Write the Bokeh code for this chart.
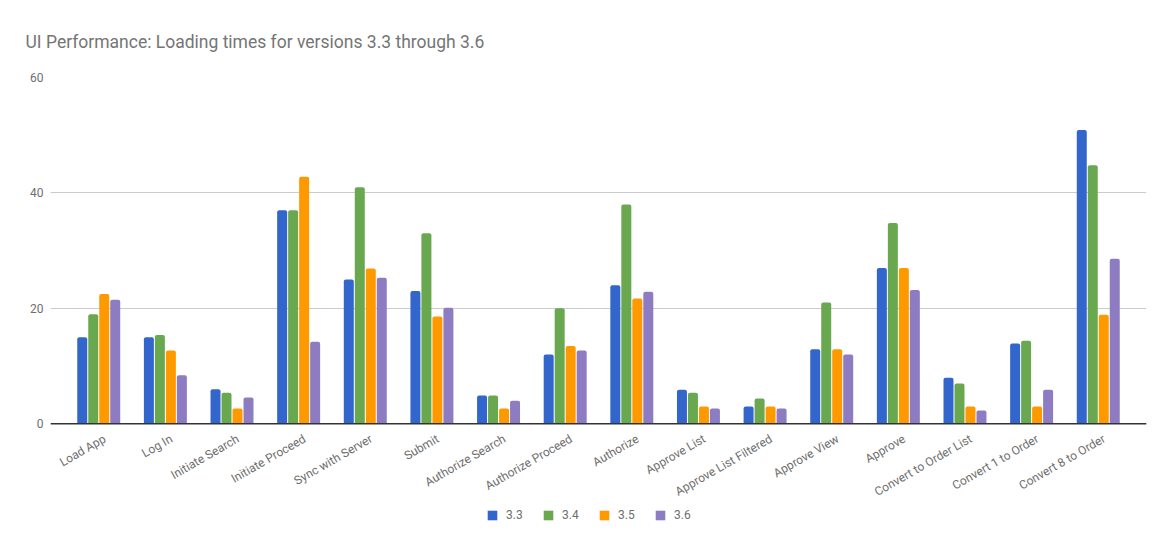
import math
from bokeh.plotting import figure
from bokeh.models import ColumnDataSource, FactorRange, Range1d, Span, Legend, LegendItem, Title
from bokeh.core.properties import value
from bokeh.transform import dodge
from bokeh.embed import file_html
from bokeh.resources import INLINE

categories = ["Load App", "Log In", "Initiate Search", "Initiate Proceed", "Sync with Server",
              "Submit", "Authorize Search", "Authorize Proceed", "Authorize", "Approve List",
              "Approve List Filtered", "Approve View", "Approve", "Convert to Order List",
              "Convert 1 to Order", "Convert 8 to Order"]
v33 = [15, 15, 6, 37, 25, 23, 4.9, 12, 24, 5.9, 3, 12.9, 27, 8, 13.9, 50.9]
v34 = [19, 15.4, 5.4, 37, 41, 33, 4.9, 20, 38, 5.4, 4.4, 21, 34.8, 7, 14.4, 44.8]
v35 = [22.5, 12.7, 2.65, 42.8, 26.9, 18.6, 2.65, 13.5, 21.7, 3, 3, 12.9, 27, 3, 3, 18.9]
v36 = [21.5, 8.4, 4.55, 14.2, 25.3, 20.1, 4, 12.7, 22.9, 2.65, 2.65, 12, 23.2, 2.3, 5.9, 28.6]
series_names = ["3.3", "3.4", "3.5", "3.6"]
colors = ["#3366cc", "#6aa84f", "#ff9900", "#8e7cc3"]
y_ticks = [0, 20, 40, 60]

source = ColumnDataSource(dict(cat=categories, s33=v33, s34=v34, s35=v35, s36=v36,
                               base=[0] * len(categories)))

# frame: 60 at page y 77, 0 at y 423.3; extended below 0 to hold category labels and legend
px_per_unit = 346.3 / 60.0
frame_h = 467
y_min = -(frame_h - 346.3) / px_per_unit

p = figure(frame_width=1096, frame_height=frame_h, output_backend="svg", toolbar_location=None,
           x_range=FactorRange(*categories, range_padding=0.028, range_padding_units="percent"),
           y_range=Range1d(y_min, 60),
           min_border_left=50, min_border_right=10, min_border_top=77, min_border_bottom=0)
p.title = Title(text="UI Performance: Loading times for versions 3.3 through 3.6",
                text_font="Roboto", text_font_size="17.5px", text_font_style="normal",
                text_color="#757575", offset=-25, standoff=52)
p.outline_line_color = None
p.background_fill_color = "white"
p.border_fill_color = "white"

step = 0.165
w = 0.15
fields = ["s33", "s34", "s35", "s36"]
renderers = []
for i, (f, c) in enumerate(zip(fields, colors)):
    off = (i - 1.5) * step
    r = p.vbar(x=dodge("cat", off, range=p.x_range), top=f, width=w, source=source,
               fill_color=c, line_color=None, border_radius=(2, 2, 0, 0))
    renderers.append(r)

label_color = "#6e6e6e"
p.xgrid.grid_line_color = None
p.ygrid.ticker = y_ticks
p.ygrid.grid_line_color = "#cccccc"
p.ygrid.grid_line_width = 1
p.yaxis.ticker = y_ticks
p.yaxis.axis_line_color = None
p.yaxis.major_tick_line_color = None
p.yaxis.minor_tick_line_color = None
p.yaxis.major_label_text_font = "Roboto"
p.yaxis.major_label_text_font_size = "12px"
p.yaxis.major_label_text_color = label_color
p.yaxis.major_label_standoff = 1
p.xaxis.visible = False

# category labels, rotated, anchored under each group
p.text(x="cat", y="base", text="cat", source=source, angle=math.pi / 6,
       text_align="right", text_baseline="middle", x_offset=6, y_offset=14,
       text_font=value("Roboto"), text_font_size="12px", text_color=label_color)

p.add_layout(Span(location=0, dimension="width", line_color="#333333", line_width=1.5))

legend = Legend(items=[LegendItem(label=n, renderers=[r]) for n, r in zip(series_names, renderers)],
                orientation="horizontal", location=(436, 22),
                glyph_width=12, glyph_height=12, label_height=12, label_standoff=8, spacing=16,
                label_text_font="Roboto", label_text_font_size="12px", label_text_color=label_color,
                label_text_baseline="middle",
                border_line_color=None, background_fill_alpha=0, margin=0, padding=0)
p.add_layout(legend, "center")

open("out.html", "w").write(file_html(p, INLINE))
